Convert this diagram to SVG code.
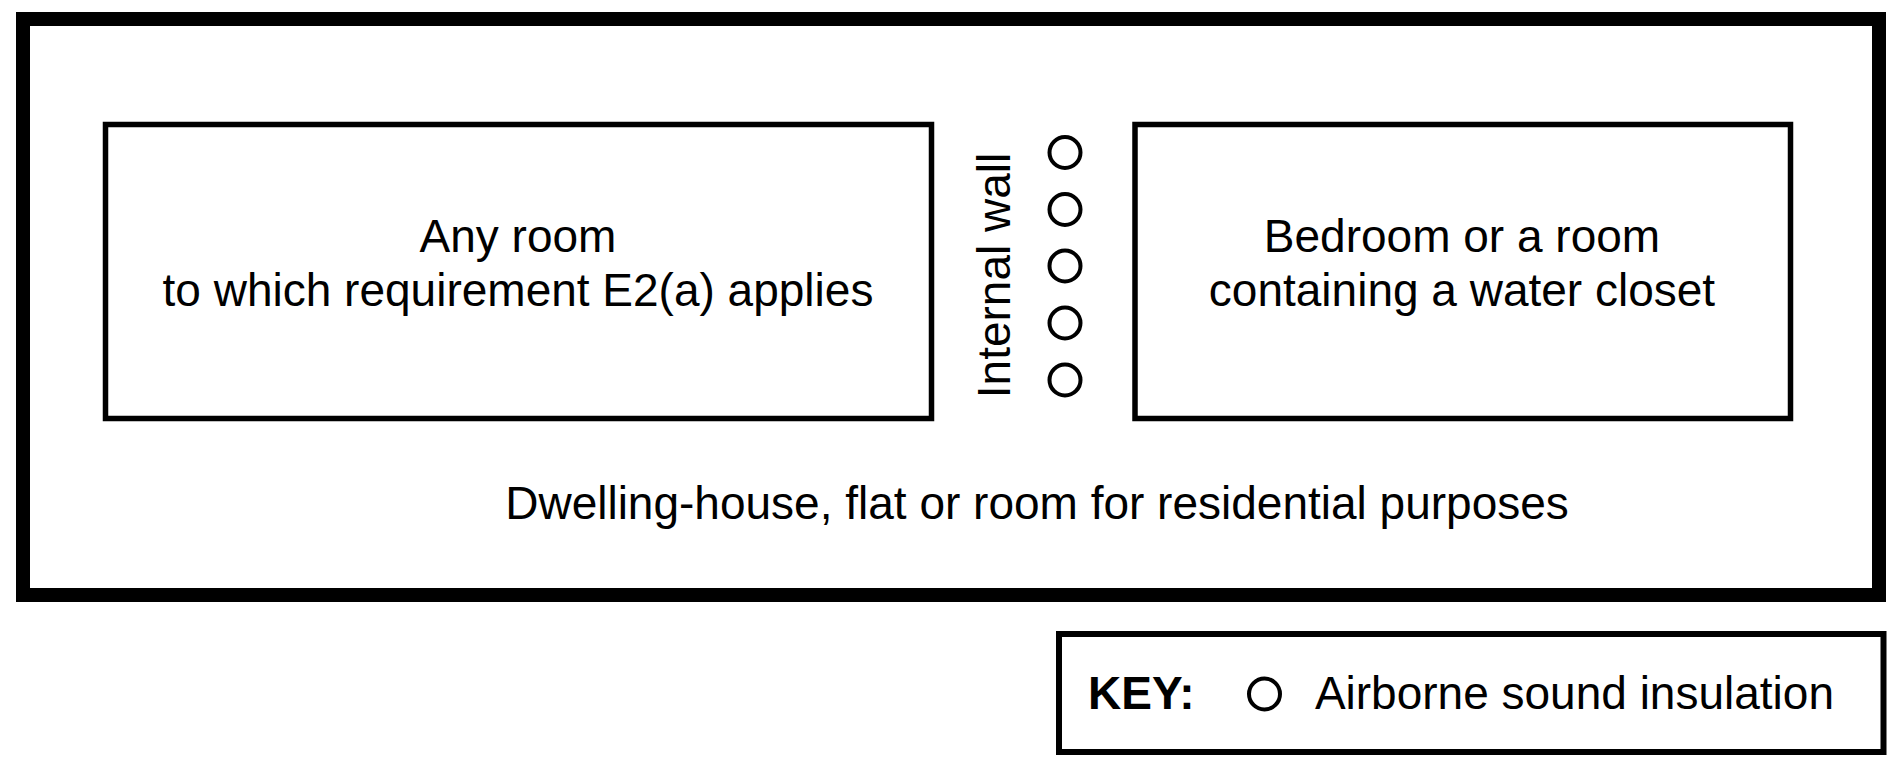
<svg xmlns="http://www.w3.org/2000/svg" width="1895" height="768" viewBox="0 0 1895 768">
  <style>
    .frame { fill: none; stroke: #000; stroke-width: 14; }
    .room { fill: none; stroke: #000; stroke-width: 5.5; }
    .keybox { fill: none; stroke: #000; stroke-width: 6; }
    .dot { fill: none; stroke: #000; stroke-width: 4; }
    .lbl { font-family: "Liberation Sans", Arial, sans-serif; font-size: 46px; fill: #000; }
    .mid { text-anchor: middle; }
    .bold { font-weight: bold; }
  </style>
  <rect width="1895" height="768" fill="#fff"/>
  <g id="dwelling">
    <rect class="frame" x="23" y="19" width="1856" height="576"/>
    <text class="lbl mid" x="1037" y="519">Dwelling-house, flat or room for residential purposes</text>
  </g>
  <g id="room-any">
    <rect class="room" x="105.5" y="124.5" width="826" height="294"/>
    <text class="lbl mid" x="518" y="252">Any room</text>
    <text class="lbl mid" x="518" y="306">to which requirement E2(a) applies</text>
  </g>
  <g id="room-bedroom">
    <rect class="room" x="1135" y="124.5" width="655.5" height="294"/>
    <text class="lbl mid" x="1462" y="252">Bedroom or a room</text>
    <text class="lbl mid" x="1462" y="306">containing a water closet</text>
  </g>
  <g id="internal-wall">
    <text class="lbl mid" transform="translate(1010 275.5) rotate(-90)" x="0" y="0">Internal wall</text>
    <circle class="dot" cx="1065" cy="152.5" r="15.5"/>
    <circle class="dot" cx="1065" cy="209.5" r="15.5"/>
    <circle class="dot" cx="1065" cy="266" r="15.5"/>
    <circle class="dot" cx="1065" cy="323" r="15.5"/>
    <circle class="dot" cx="1065" cy="380" r="15.5"/>
  </g>
  <g id="key">
    <rect class="keybox" x="1059" y="634" width="824.5" height="118"/>
    <text class="lbl bold" x="1088" y="709">KEY:</text>
    <circle class="dot" cx="1264.5" cy="694" r="15.5"/>
    <text class="lbl" x="1834" y="709" text-anchor="end">Airborne sound insulation</text>
  </g>
</svg>
